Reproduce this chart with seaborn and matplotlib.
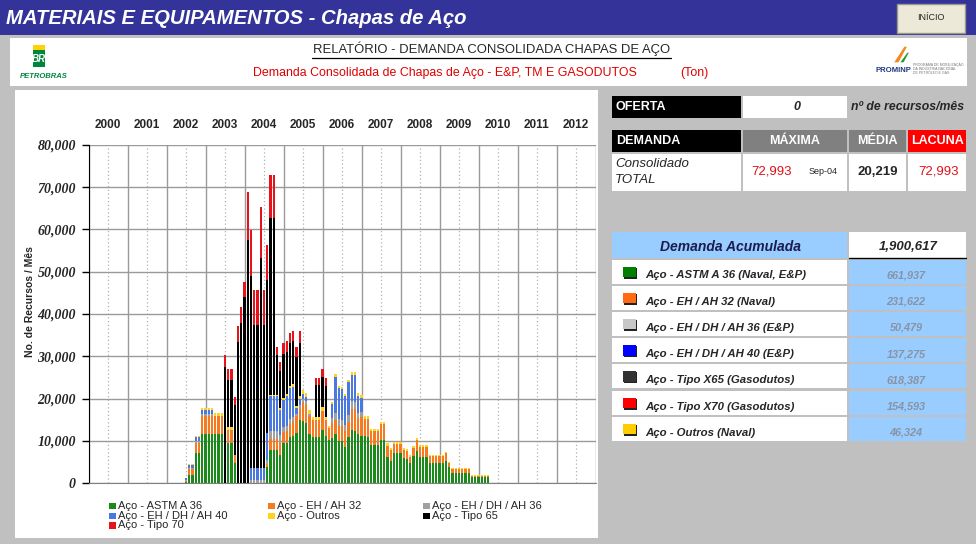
import matplotlib
matplotlib.use("Agg")
import matplotlib.pyplot as plt
from matplotlib.patches import Rectangle, Polygon
from matplotlib.lines import Line2D
from matplotlib.transforms import blended_transform_factory
import numpy as np
import pandas as pd
import seaborn as sns

# ---------------------------------------------------------------- data
first_month = "2002-07"
years = list(range(2000, 2013))

series_names = ["Aço - ASTM A 36", "Aço - EH / AH 32", "Aço - EH / DH / AH 36",
                "Aço - EH / DH / AH 40", "Aço - Outros", "Aço - Tipo 65", "Aço - Tipo 70"]
series_colors = ["#1b8a1b", "#f57a20", "#a0a0a0", "#4a78e0", "#ffd21e", "#000000", "#e8121a"]

# monthly tonnage, Jul-2002 .. Apr-2010 (one row per year)
astm_a36 = [300, 2000, 2000, 7000, 7000, 11600,
            11600, 11600, 11600, 11600, 11600, 11600, 0, 9400, 9400, 4700, 0, 0,
            0, 0, 0, 0, 0, 0, 0, 3900, 7800, 7800, 7800, 6600,
            9400, 9400, 11000, 11100, 11800, 14900, 14600, 14200, 11700, 11000, 11000, 11000,
            12500, 11100, 10200, 10600, 11700, 10000, 10000, 8600, 11000, 12500, 12300, 11700,
            11200, 11100, 11000, 9000, 9000, 9000, 10200, 10200, 6200, 5300, 7000, 7000,
            7000, 5800, 5600, 4650, 6400, 7650, 6100, 6100, 6100, 4800, 4800, 4800,
            4800, 4800, 5300, 3700, 2450, 2450, 2450, 2450, 2450, 2450, 1400, 1400,
            1400, 1400, 1400, 1400]
eh_ah32 = [200, 1200, 1200, 2500, 2500, 4300,
           4300, 4300, 4300, 4300, 4300, 4300, 0, 3200, 3200, 2000, 0, 0,
           0, 0, 0, 0, 0, 0, 0, 500, 2500, 2500, 2500, 2800,
           2600, 2800, 3000, 3500, 4000, 2700, 4500, 4600, 4100, 3900, 3900, 3900,
           4500, 3700, 2700, 3500, 3300, 3600, 3500, 3800, 3500, 5000, 5200, 3800,
           4400, 4100, 4200, 3200, 3200, 3200, 3700, 3700, 2600, 2400, 2200, 2200,
           2200, 1900, 1900, 1600, 2000, 2500, 2500, 2500, 2500, 1500, 1500, 1500,
           1500, 1500, 1800, 1050, 800, 800, 800, 800, 800, 800, 350, 350,
           350, 350, 350, 350]
eh_dh_ah36 = [200, 400, 400, 400, 400, 400,
              400, 400, 400, 0, 0, 0, 0, 0, 0, 0, 0, 0,
              0, 0, 800, 800, 800, 800, 800, 1000, 2000, 2000, 2000, 2000,
              1300, 1400, 1200, 1000, 600, 800, 800, 600, 500, 0, 0, 0,
              0, 0, 0, 1200, 1500, 1600, 1500, 1400, 1500, 1800, 1700, 1100,
              1200, 0, 0, 0, 0, 0, 0, 0, 0, 0, 0, 0,
              0, 0, 0, 0, 0, 0, 0, 0, 0, 0, 0, 0,
              0, 0, 0, 0, 0, 0, 0, 0, 0, 0, 0, 0,
              0, 0, 0, 0]
eh_dh_ah40 = [400, 700, 700, 900, 900, 1000,
              1000, 1000, 1000, 0, 0, 0, 0, 0, 0, 0, 0, 0,
              0, 0, 2800, 2800, 2800, 2800, 2800, 6500, 8200, 8200, 8200, 5800,
              6400, 6900, 7200, 7200, 1300, 1500, 1200, 1000, 0, 0, 0, 0,
              0, 0, 0, 3400, 8600, 7200, 7200, 6700, 7800, 6300, 6400, 4000,
              3400, 0, 0, 0, 0, 0, 0, 0, 0, 0, 0, 0,
              0, 0, 0, 0, 0, 0, 0, 0, 0, 0, 0, 0,
              0, 0, 0, 0, 0, 0, 0, 0, 0, 0, 0, 0,
              0, 0, 0, 0]
outros = [100, 200, 200, 300, 300, 500,
          500, 500, 500, 700, 700, 700, 0, 600, 600, 0, 0, 0,
          0, 0, 0, 0, 0, 0, 0, 0, 400, 400, 400, 500,
          400, 500, 600, 700, 500, 700, 900, 900, 1000, 800, 800, 800,
          900, 900, 600, 550, 600, 600, 600, 600, 600, 600, 600, 600,
          600, 650, 650, 600, 600, 600, 600, 600, 600, 500, 600, 600,
          600, 500, 450, 400, 450, 450, 450, 450, 450, 350, 350, 350,
          350, 350, 300, 300, 220, 220, 220, 220, 220, 220, 150, 150,
          150, 150, 150, 150]
tipo65 = [0, 0, 0, 0, 0, 0,
          0, 0, 0, 0, 0, 0, 27500, 11200, 11200, 11700, 33450, 37800,
          44000, 57500, 45300, 33800, 33800, 49600, 33800, 36150, 41800, 41800, 9400, 8900,
          10400, 10000, 10100, 10100, 11700, 12500, 0, 0, 0, 0, 7500, 7500,
          7100, 7300, 0, 0, 0, 0, 0, 0, 0, 0, 0, 0,
          0, 0, 0, 0, 0, 0, 0, 0, 0, 0, 0, 0,
          0, 0, 0, 0, 0, 0, 0, 0, 0, 0, 0, 0,
          0, 0, 0, 0, 0, 0, 0, 0, 0, 0, 0, 0,
          0, 0, 0, 0]
tipo70 = [0, 0, 0, 0, 0, 0,
          0, 0, 0, 0, 0, 0, 2800, 2700, 2700, 2000, 3800, 3950,
          3650, 11400, 11000, 8300, 8300, 12200, 8300, 8300, 10293, 10200, 1960, 2100,
          2600, 2600, 2400, 2400, 2400, 2800, 0, 0, 0, 0, 1600, 1600,
          2100, 1800, 0, 0, 0, 0, 0, 0, 0, 0, 0, 0,
          0, 0, 0, 0, 0, 0, 0, 0, 0, 0, 0, 0,
          0, 0, 0, 0, 0, 0, 0, 0, 0, 0, 0, 0,
          0, 0, 0, 0, 0, 0, 0, 0, 0, 0, 0, 0,
          0, 0, 0, 0]

oferta = "0"
maxima, maxima_mes, media, lacuna = "72,993", "Sep-04", "20,219", "72,993"
acumulada_total = "1,900,617"
acumulada_labels = ["Aço - ASTM A 36 (Naval, E&P)", "Aço - EH / AH 32 (Naval)",
                    "Aço - EH / DH / AH 36 (E&P)", "Aço - EH / DH / AH 40 (E&P)",
                    "Aço - Tipo X65 (Gasodutos)", "Aço - Tipo X70 (Gasodutos)",
                    "Aço - Outros (Naval)"]
acumulada_values = ["661,937", "231,622", "50,479", "137,275", "618,387", "154,593", "46,324"]
acumulada_colors = ["#008000", "#ff6a13", "#c8c8c8", "#0000ff", "#333333", "#ff0000", "#ffcc00"]

# ---------------------------------------------------------------- setup
sns.set_style("white")
plt.rcParams["font.family"] = ["Liberation Sans", "DejaVu Sans"]

W, H = 976, 544
fig = plt.figure(figsize=(W / 100, H / 100), dpi=100, facecolor="#c0c0c0")


def fx(x):
    return x / W


def fy(y):
    return 1 - y / H


def box(x0, y0, x1, y1, color, **kw):
    kw.setdefault("edgecolor", "none")
    fig.patches.append(Rectangle((fx(x0), fy(y1)), (x1 - x0) / W, (y1 - y0) / H,
                                 transform=fig.transFigure, facecolor=color,
                                 zorder=-1, **kw))


def hline(x0, x1, y, color="black", lw=1.0):
    fig.lines.append(Line2D([fx(x0), fx(x1)], [fy(y), fy(y)], transform=fig.transFigure,
                            color=color, lw=lw, zorder=-0.5))


def label(x, y, s, **kw):
    kw.setdefault("va", "center")
    kw.setdefault("ha", "left")
    fig.text(fx(x), fy(y), s, **kw)


# header bar
box(0, 0, W, 35, "#333399")
label(6, 18, "MATERIAIS E EQUIPAMENTOS - Chapas de Aço", color="white", fontsize=14.6,
      fontweight="bold", fontstyle="italic")
box(897, 4, 965, 33, "#ece9d8", linewidth=1, edgecolor="#9a9a8a")
label(931, 18, "INÍCIO", ha="center", fontsize=6.5)

# report banner
box(10, 38, 967, 86, "white")
label(492, 49, "RELATÓRIO - DEMANDA CONSOLIDADA CHAPAS DE AÇO", ha="center", fontsize=9.4)
hline(312, 671, 57.5, lw=0.9)
label(253, 73, "Demanda Consolidada de Chapas de Aço - E&P, TM E GASODUTOS", fontsize=8.9,
      color="#e00000")
label(680, 73, "(Ton)", fontsize=8.9, color="#e00000")

# petrobras logo
box(33, 45, 45, 50, "#ffd200")
box(33, 50, 45, 67, "#00853f")
label(39, 58.5, "BR", ha="center", color="white", fontsize=7, fontweight="bold", fontstyle="italic")
label(44, 76, "PETROBRAS", ha="center", color="#00853f", fontsize=5.5, fontweight="bold",
      fontstyle="italic")

# prominp logo
fig.patches.append(Polygon([[fx(893), fy(63)], [fx(899), fy(63)], [fx(908), fy(46)], [fx(904), fy(46)]],
                           closed=True, transform=fig.transFigure, facecolor="#f08a1c", zorder=-0.5))
fig.patches.append(Polygon([[fx(899), fy(63)], [fx(904), fy(63)], [fx(910), fy(52)], [fx(907), fy(52)]],
                           closed=True, transform=fig.transFigure, facecolor="#2c9a3c", zorder=-0.5))
label(875, 70, "PROMINP", color="#1f3a80", fontsize=5.6, fontweight="bold")
for i, t in enumerate(["PROGRAMA DE MOBILIZAÇÃO", "DA INDÚSTRIA NACIONAL", "DE PETRÓLEO E GÁS"]):
    label(913, 65 + 4 * i, t, color="#777777", fontsize=2.5)

# chart panel
box(15, 90, 598, 538, "white")

# ---------------------------------------------------------------- bars
periods = pd.period_range(first_month, periods=len(astm_a36), freq="M")
month_idx = (periods.year - years[0]) * 12 + periods.month - 1
values = pd.DataFrame(dict(zip(series_names, [astm_a36, eh_ah32, eh_dh_ah36, eh_dh_ah40,
                                              outros, tipo65, tipo70])), index=month_idx)
tops = values.cumsum(axis=1).reset_index(names="month")
long = tops.melt(id_vars="month", var_name="serie", value_name="top")

ax = fig.add_axes([fx(88.5), fy(483), (595.5 - 88.5) / W, (483 - 145) / H])
ax.set_facecolor("white")
# draw cumulative layers from the top of the stack down
for name, color in reversed(list(zip(series_names, series_colors))):
    sns.barplot(data=long[long["serie"] == name], x="month", y="top", color=color,
                native_scale=True, orient="x", width=0.72, saturation=1, errorbar=None,
                linewidth=0, ax=ax)

n_months = len(years) * 12
ax.set_xlim(0, n_months)
ax.set_ylim(0, 80000)
ax.set_xlabel("")
ax.set_ylabel("")
ax.set_xticks(np.arange(0, n_months + 1, 12))
ax.set_xticks(np.arange(6, n_months, 12), minor=True)
ax.grid(axis="x", which="major", color="#9a9a9a", lw=1, ls="-")
ax.grid(axis="x", which="minor", color="#b0b0b0", lw=0.9, ls=(0, (1, 2)))
yt = np.arange(0, 80001, 10000)
ax.set_yticks(yt, labels=[f"{v:,}" for v in yt], family=["Liberation Serif", "DejaVu Serif"],
              fontweight="bold", fontstyle="italic", fontsize=10)
ax.grid(axis="y", which="major", color="#9a9a9a", lw=1)
ax.set_axisbelow(True)
ax.tick_params(axis="x", which="both", length=0, labelbottom=False)
ax.tick_params(axis="y", direction="out", length=5, width=1, color="black", pad=4, left=True)
for side in ("top", "right"):
    ax.spines[side].set_visible(False)
ax.spines["left"].set_color("black")
ax.spines["bottom"].set_color("#808080")

tr = blended_transform_factory(ax.transData, ax.transAxes)
for i, yr in enumerate(years):
    ax.text(i * 12 + 6, 1 + 20 / 338, str(yr), transform=tr, ha="center", va="center",
            fontsize=8.5, fontweight="bold")

label(30, 302, "No. de Recursos / Mês", ha="center", rotation=90, fontsize=7.5,
      fontweight="bold")

# legend under the chart (three columns, row-major like the original)
leg_x = [109, 268, 423]
leg_y = [506, 516, 525.5]
for i, (name, color) in enumerate(zip(series_names, series_colors)):
    cx, cy = leg_x[i % 3], leg_y[i // 3]
    box(cx, cy - 3.5, cx + 6.5, cy + 3, color)
    label(cx + 9, cy, name, fontsize=8)

# ---------------------------------------------------------------- right panel
box(612, 96, 741, 118, "black")
label(616, 107, "OFERTA", color="white", fontsize=9, fontweight="bold")
box(743, 96, 847, 118, "white")
label(797, 107, oferta, ha="center", fontsize=9, fontweight="bold", fontstyle="italic")
label(851, 107, "nº de recursos/mês", fontsize=8.8, fontweight="bold", fontstyle="italic")

box(612, 130, 741, 152, "black")
label(616, 141, "DEMANDA", color="white", fontsize=9, fontweight="bold")
box(743, 130, 847, 152, "#808080")
label(795, 141, "MÁXIMA", ha="center", color="white", fontsize=9, fontweight="bold")
box(849, 130, 906, 152, "#808080")
label(877.5, 141, "MÉDIA", ha="center", color="white", fontsize=9, fontweight="bold")
box(908, 130, 966, 152, "#ff0000")
label(937, 141, "LACUNA", ha="center", color="white", fontsize=9, fontweight="bold")

for x0, x1 in [(612, 741), (743, 847), (849, 906), (908, 966)]:
    box(x0, 154, x1, 191, "white")
label(615, 164, "Consolidado", fontsize=9.5, fontstyle="italic")
label(615, 180, "TOTAL", fontsize=9.5, fontstyle="italic")
label(772, 172, maxima, ha="center", fontsize=9.5, color="#e0101a")
label(823, 171, maxima_mes, ha="center", fontsize=6.5)
label(877.5, 172, media, ha="center", fontsize=9.5, fontweight="semibold")
label(939, 172, lacuna, ha="center", fontsize=9.5, color="#e0101a")

box(612, 232, 847, 258, "#99ccff")
label(730, 247, "Demanda Acumulada", ha="center", fontsize=10, fontweight="bold",
      fontstyle="italic", color="#1c1c50")
box(849, 232, 966, 258, "white")
label(908, 247, acumulada_total, ha="center", fontsize=9.5, fontweight="bold",
      fontstyle="italic")
hline(849, 966, 257.5, lw=1.0)

for k, (name, val, color) in enumerate(zip(acumulada_labels, acumulada_values, acumulada_colors)):
    top = 259.5 + 26.2 * k
    box(612, top, 847, top + 24, "white")
    box(849, top, 966, top + 24, "#99ccff")
    box(624, top + 8, 637, top + 19, "#222222")
    box(623, top + 7, 635.5, top + 17.5, color)
    label(645, top + 16, name, fontsize=8.2, fontweight="bold", fontstyle="italic")
    label(906, top + 16, val, ha="center", fontsize=7.8, fontweight="bold",
          fontstyle="italic", color="#8794a6")

fig.savefig("out.png", dpi=100, facecolor=fig.get_facecolor())
